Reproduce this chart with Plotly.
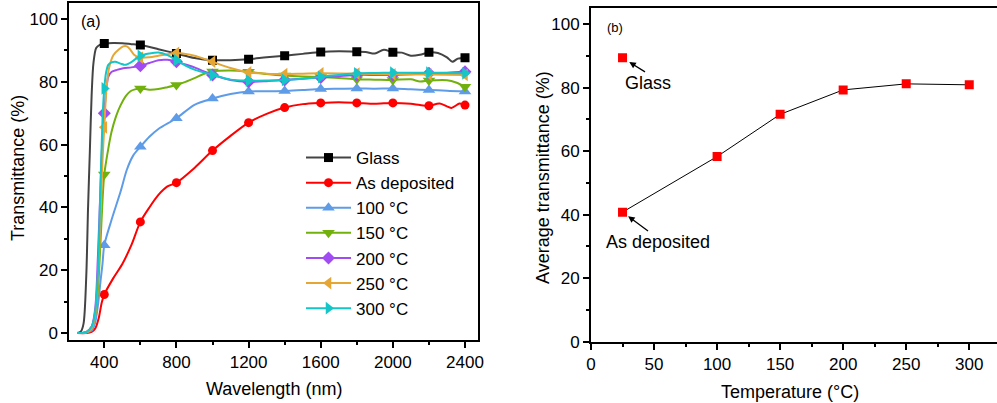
import plotly.graph_objects as go

# ---------------- data: panel (a) transmittance spectra (hand-read) ----------------
MARK_WL = [400, 600, 800, 1000, 1200, 1400, 1600, 1800, 2000, 2200, 2400]

glass_wl = [250, 270, 285, 300, 310, 320, 330, 340, 355, 375, 400, 450, 500, 550, 600, 700, 800, 900,
            1000, 1100, 1200, 1300, 1400, 1500, 1600, 1700, 1800, 1850, 1900, 1950, 2000, 2050, 2100,
            2150, 2200, 2250, 2300, 2330, 2360, 2400]
glass_t = [0, 0.5, 3, 18, 40, 58, 76, 86, 90.8, 91.8, 92.2, 92.4, 92.3, 92.0, 91.7, 90.4, 89.0, 87.6,
           86.9, 86.9, 87.2, 87.8, 88.3, 88.9, 89.5, 89.7, 89.6, 89.5, 89.0, 90.2, 89.4, 89.3, 88.3,
           88.6, 89.4, 89.2, 87.8, 86.4, 87.4, 87.7]

asdep_wl = [250, 300, 330, 350, 370, 385, 400, 450, 500, 550, 600, 650, 700, 750, 800, 900, 1000, 1100,
            1200, 1300, 1400, 1500, 1600, 1700, 1800, 1900, 2000, 2100, 2150, 2200, 2260, 2325, 2370, 2400]
asdep_t = [0, 0, 0.4, 1.5, 5, 9.5, 12.3, 17.5, 22, 28, 35.4, 40, 44, 46.7, 47.9, 52.6, 58.1, 62.8,
           67.0, 69.8, 71.8, 72.9, 73.3, 73.5, 73.3, 73.0, 73.3, 73.0, 72.6, 72.4, 73.1, 71.7, 73.1, 72.6]

t100_wl = [250, 300, 330, 350, 365, 380, 390, 400, 440, 490, 525, 560, 600, 650, 700, 800, 900, 1000,
           1100, 1200, 1300, 1400, 1500, 1600, 1700, 1800, 1900, 2000, 2100, 2200, 2300, 2400]
t100_t = [0, 0.3, 0.8, 3.5, 9, 17, 22, 28.0, 36, 45, 52, 56.5, 59.3, 62.5, 65, 68.4, 72.7, 74.7,
          76.1, 76.9, 77.0, 77.1, 77.4, 77.7, 77.8, 77.9, 77.8, 77.9, 77.6, 77.4, 77.2, 76.9]

t150_wl = [250, 300, 330, 350, 365, 380, 390, 400, 420, 440, 465, 490, 520, 545, 570, 600, 650, 700,
           750, 800, 850, 900, 950, 1000, 1100, 1200, 1300, 1400, 1500, 1600, 1700, 1800, 1900, 2000,
           2100, 2150, 2200, 2300, 2350, 2400]
t150_t = [0, 0.3, 2, 6, 14, 30, 42, 50.5, 58, 64, 69, 72.5, 75.5, 77, 77.6, 77.9, 77.5, 77.7,
          78.3, 79.0, 80.0, 81.2, 82.5, 83.3, 83.6, 83.2, 82.5, 82.0, 81.7, 81.5, 81.2, 80.8, 80.7, 80.6,
          80.8, 80.1, 80.4, 80.5, 79.8, 78.4]

t200_wl = [250, 300, 330, 350, 365, 380, 390, 400, 410, 422, 441, 470, 505, 550, 600, 650, 700, 750,
           800, 850, 900, 950, 1000, 1100, 1200, 1300, 1400, 1500, 1600, 1700, 1800, 1900, 2000, 2100,
           2200, 2300, 2400]
t200_t = [0, 0.3, 2, 8, 25, 48, 62, 70.0, 77, 81.6, 83.2, 83.8, 84.3, 84.6, 85.1, 86.0, 86.9, 87.0,
          86.4, 85.5, 84.6, 83.4, 82.2, 80.6, 80.0, 80.2, 80.6, 81.0, 81.4, 81.8, 82.2, 82.2, 82.2, 82.4,
          82.7, 82.9, 83.2]

t250_wl = [250, 300, 330, 350, 365, 380, 390, 400, 410, 425, 450, 480, 505, 525, 545, 565, 600, 650,
           700, 750, 800, 850, 900, 950, 1000, 1100, 1200, 1300, 1400, 1500, 1600, 1800, 2000, 2200, 2400]
t250_t = [0, 0.2, 1.5, 6, 18, 38, 55, 65.5, 76, 84, 88.5, 90.3, 91.3, 91.3, 90.2, 88.6, 87.7, 87.8,
          88.3, 88.8, 89.2, 88.9, 88.3, 87.4, 86.4, 84.4, 83.0, 82.6, 82.5, 82.6, 82.7, 82.6, 82.4, 82.3, 82.2]

t300_wl = [250, 300, 330, 350, 365, 378, 390, 400, 410, 422, 440, 460, 490, 515, 550, 600, 650, 700,
           750, 800, 850, 900, 950, 1000, 1100, 1200, 1300, 1400, 1500, 1600, 1700, 1800, 1900, 2000,
           2100, 2200, 2300, 2400]
t300_t = [0, 0.3, 2, 7, 20, 45, 68, 77.9, 83, 85.4, 86.2, 86.4, 85.8, 85.4, 86.3, 88.3, 89.0, 89.3,
          88.5, 86.9, 85.2, 83.9, 83.0, 82.2, 80.7, 80.4, 80.4, 80.6, 81.0, 81.6, 82.2, 82.7, 82.8, 82.9,
          82.9, 82.9, 82.8, 82.7]

series_names = ["Glass", "As deposited", "100 °C", "150 °C", "200 °C", "250 °C", "300 °C"]

# ---------------- data: panel (b) average transmittance ----------------
temps = [25, 100, 150, 200, 250, 300]
avg_t = [40.8, 58.3, 71.6, 79.3, 81.2, 80.9]
glass_temp = [25]
glass_avg = [89.4]

# ---------------- styles ----------------
FONT = "Liberation Sans, Arial, sans-serif"
styles = [
    dict(line="#444444", marker="#000000", symbol="square", size=9),
    dict(line="#FF0000", marker="#FF0000", symbol="circle", size=9),
    dict(line="#5E9CE8", marker="#5E9CE8", symbol="triangle-up", size=11),
    dict(line="#72B00E", marker="#72B00E", symbol="triangle-down", size=11),
    dict(line="#A04CF2", marker="#A04CF2", symbol="diamond", size=10),
    dict(line="#E6A634", marker="#E6A634", symbol="triangle-left", size=11),
    dict(line="#14C6C8", marker="#14C6C8", symbol="triangle-right", size=11),
]
curves = [(glass_wl, glass_t), (asdep_wl, asdep_t), (t100_wl, t100_t), (t150_wl, t150_t),
          (t200_wl, t200_t), (t250_wl, t250_t), (t300_wl, t300_t)]

fig = go.Figure()

for name, (wl, tt), st in zip(series_names, curves, styles):
    fig.add_trace(go.Scatter(x=wl, y=tt, mode="lines", line=dict(color=st["line"], width=2, shape="spline", smoothing=0.8),
                             showlegend=False, hoverinfo="skip", xaxis="x", yaxis="y"))
    mx = [w for w in wl if w in MARK_WL]
    my = [t for w, t in zip(wl, tt) if w in MARK_WL]
    fig.add_trace(go.Scatter(x=mx, y=my, mode="markers",
                             marker=dict(color=st["marker"], symbol=st["symbol"], size=st["size"], line=dict(width=0)),
                             showlegend=False, xaxis="x", yaxis="y"))

# legend entries
for name, st in zip(series_names, styles):
    fig.add_trace(go.Scatter(x=[None], y=[None], mode="lines+markers", name=name,
                             line=dict(color=st["line"], width=2),
                             marker=dict(color=st["marker"], symbol=st["symbol"], size=st["size"], line=dict(width=0)),
                             xaxis="x", yaxis="y"))

# panel (b)
fig.add_trace(go.Scatter(x=temps, y=avg_t, mode="lines+markers", line=dict(color="#000000", width=1),
                         marker=dict(color="#FF0000", symbol="square", size=9, line=dict(width=0)),
                         showlegend=False, xaxis="x2", yaxis="y2"))
fig.add_trace(go.Scatter(x=glass_temp, y=glass_avg, mode="markers",
                         marker=dict(color="#FF0000", symbol="square", size=9, line=dict(width=0)),
                         showlegend=False, xaxis="x2", yaxis="y2"))

W, H = 997, 403
def px(x):
    return x / W
def py(y):
    return 1 - y / H

axis_common = dict(showline=True, linecolor="black", linewidth=2, ticks="outside", ticklen=6, tickwidth=2,
                   tickcolor="black", showgrid=False, zeroline=False, automargin=False,
                   tickfont=dict(family=FONT, size=17, color="black"))

fig.update_layout(
    template="none",
    width=W, height=H, margin=dict(l=0, r=0, t=0, b=0, pad=0, autoexpand=False),
    paper_bgcolor="white", plot_bgcolor="white",
    font=dict(family=FONT, size=17, color="black"),
    xaxis=dict(domain=[px(69.3), px(478)], range=[206, 2472], dtick=400, tick0=0, mirror=True,
               minor=dict(dtick=200, tick0=0, ticks="outside", ticklen=3, tickwidth=1.5, tickcolor="black"),
               anchor="y", **axis_common),
    yaxis=dict(domain=[py(340), py(3)], range=[-2.2, 105.1], dtick=20, tick0=0, mirror=True,
               minor=dict(dtick=10, tick0=0, ticks="outside", ticklen=3, tickwidth=1.5, tickcolor="black"),
               anchor="x", **axis_common),
    xaxis2=dict(domain=[px(591), 1.0], range=[0, 322], dtick=50, tick0=0, mirror=True,
                minor=dict(dtick=25, tick0=0, ticks="outside", ticklen=3, tickwidth=1.5, tickcolor="black"),
                anchor="y2", **axis_common),
    yaxis2=dict(domain=[py(341.7), py(8.3)], range=[0, 105], dtick=20, tick0=0, mirror=False,
                minor=dict(dtick=10, tick0=0, ticks="outside", ticklen=3, tickwidth=1.5, tickcolor="black"),
                anchor="x2", **axis_common),
    legend=dict(x=px(301), y=py(140), xanchor="left", yanchor="top", bgcolor="rgba(0,0,0,0)",
                font=dict(family=FONT, size=17, color="black"), borderwidth=0,
                itemwidth=45),
)

def text_ann(txt, x, y, size=18, angle=0):
    fig.add_annotation(text=txt, x=px(x), y=py(y), xref="paper", yref="paper", showarrow=False,
                       xanchor="center", yanchor="middle", textangle=angle,
                       font=dict(family=FONT, size=size, color="black"))

text_ann("Transmittance (%)", 18, 168, 18, -90)
text_ann("Wavelength (nm)", 274, 389, 18)
text_ann("Average transmittance (%)", 543, 178, 18, -90)
text_ann("Temperature (°C)", 790, 392, 18)
text_ann("(a)", 91, 22, 16)
text_ann("(b)", 614.5, 28, 13)
text_ann("Glass", 648, 83, 18)
text_ann("As deposited", 658, 242, 18)

# arrows pointing at the glass and as-deposited markers
fig.add_annotation(x=glass_temp[0], y=glass_avg[0], xref="x2", yref="y2", text="", showarrow=True,
                   ax=24, ay=15, arrowhead=2, arrowsize=1, arrowwidth=1.3, arrowcolor="black", standoff=8)
fig.add_annotation(x=temps[0], y=avg_t[0], xref="x2", yref="y2", text="", showarrow=True,
                   ax=27, ay=20, arrowhead=2, arrowsize=1, arrowwidth=1.3, arrowcolor="black", standoff=7)

fig.write_html("out.html", config={"displayModeBar": False},
               post_script="document.body.style.margin='0px';document.body.style.overflow='hidden';")
